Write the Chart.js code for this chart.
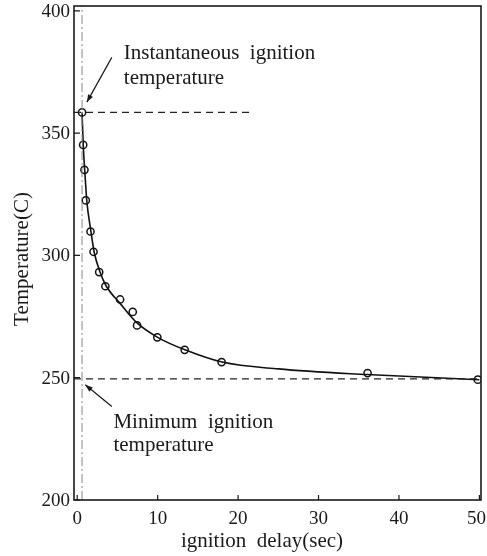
<!DOCTYPE html>
<html>
<head>
<meta charset="utf-8">
<script src="https://cdn.jsdelivr.net/npm/chart.js@4.4.0/dist/chart.umd.min.js"></script>
<style>
  html, body { margin: 0; padding: 0; background: #fff; }
  #wrap { width: 487px; height: 556px; }
</style>
</head>
<body>
<div id="wrap"><canvas id="chartIgnition"></canvas></div>
<script>
// ===== DATA =====
const delaySec = [0.6, 0.74, 0.9, 1.07, 1.65, 2.03, 2.73, 3.5, 5.33, 6.9, 7.44, 9.96, 13.36, 17.95, 36.1, 49.8];
const tempC = [358.5, 345.2, 335, 322.5, 309.8, 301.5, 293.2, 287.4, 282, 276.9, 271.4, 266.5, 261.4, 256.4, 251.9, 249.2];

// fitted curve
const curveX = [0.6, 0.75, 0.95, 1.2, 1.7, 2.1, 2.8, 3.6, 5.3, 7.4, 10, 13.4, 18, 25, 36, 50];
const curveY = [358.5, 345, 334, 322, 310, 301.5, 293.5, 287.5, 280.5, 272.5, 266.5, 261.4, 256.4, 253.6, 251.3, 249.2];

const instantTemp = 358.5;
const instantLineEnd = 21.7;
const minTemp = 249.5;
const instantDelay = 0.6;

const xTicks = [0, 10, 20, 30, 40, 50];
const yTicks = [200, 250, 300, 350, 400];
const xRange = [-0.4, 50.2];
const yRange = [200, 402];

const serif = '"Liberation Serif", "DejaVu Serif", serif';

// ===== PLUGINS =====
const framePlugin = {
  id: 'frame',
  afterDatasetsDraw(chart) {
    const { ctx, chartArea: a, scales: { x, y } } = chart;
    ctx.save();
    ctx.strokeStyle = '#1a1a1a';
    ctx.lineWidth = 1.6;
    ctx.strokeRect(a.left, a.top, a.right - a.left, a.bottom - a.top);
    // inward tick marks
    ctx.lineWidth = 1.2;
    ctx.beginPath();
    xTicks.forEach(v => {
      const px = x.getPixelForValue(v);
      ctx.moveTo(px, a.bottom);
      ctx.lineTo(px, a.bottom - 5);
    });
    yTicks.forEach(v => {
      const py = y.getPixelForValue(v);
      ctx.moveTo(a.left, py);
      ctx.lineTo(a.left + 6, py);
    });
    ctx.stroke();

    ctx.fillStyle = '#1a1a1a';
    ctx.textBaseline = 'middle';

    // tick labels (last x label kept inside the canvas, as in the print)
    ctx.font = '19px ' + serif;
    ctx.textAlign = 'center';
    xTicks.forEach(v => {
      const s = String(v);
      const w = ctx.measureText(s).width;
      const px = Math.min(x.getPixelForValue(v), chart.width - 1 - w / 2);
      ctx.fillText(s, px, a.bottom + 19);
    });
    ctx.textAlign = 'right';
    yTicks.forEach(v => {
      ctx.fillText(String(v), a.left - 4, y.getPixelForValue(v) + 1);
    });

    // annotations
    ctx.font = '21px ' + serif;
    ctx.textAlign = 'left';
    const txt = (s, dx, dy) => ctx.fillText(s, x.getPixelForValue(dx), y.getPixelForValue(dy));
    txt('Instantaneous  ignition', 5.8, 382.4);
    txt('temperature', 5.8, 372.2);
    txt('Minimum  ignition', 4.5, 231.6);
    txt('temperature', 4.5, 222.2);

    const arrow = (x0, y0, x1, y1) => {
      const ax = x.getPixelForValue(x0), ay = y.getPixelForValue(y0);
      const bx = x.getPixelForValue(x1), by = y.getPixelForValue(y1);
      const ang = Math.atan2(by - ay, bx - ax);
      ctx.lineWidth = 1.2;
      ctx.beginPath();
      ctx.moveTo(ax, ay);
      ctx.lineTo(bx, by);
      ctx.stroke();
      ctx.beginPath();
      ctx.moveTo(bx, by);
      ctx.lineTo(bx - 8 * Math.cos(ang - 0.35), by - 8 * Math.sin(ang - 0.35));
      ctx.lineTo(bx - 8 * Math.cos(ang + 0.35), by - 8 * Math.sin(ang + 0.35));
      ctx.closePath();
      ctx.fill();
    };
    arrow(4.3, 381, 1.2, 362.7);
    arrow(4.3, 238.2, 1.0, 247.1);

    // axis titles (the printed ones sit a little off-centre)
    ctx.textAlign = 'center';
    ctx.fillText('ignition  delay(sec)', 262, 541);
    ctx.translate(22, 259);
    ctx.rotate(-Math.PI / 2);
    ctx.fillText('Temperature(C)', 0, 0);
    ctx.restore();
  }
};

// ===== CHART =====
new Chart(document.getElementById('chartIgnition'), {
  type: 'scatter',
  data: {
    datasets: [
      {
        label: 'instant delay',
        data: yRange.map(v => ({ x: instantDelay, y: v })),
        showLine: true, borderColor: '#888', borderWidth: 1, borderDash: [9, 3, 2, 3], pointRadius: 0
      },
      {
        label: 'instantaneous',
        data: [{ x: xRange[0], y: instantTemp }, { x: instantLineEnd, y: instantTemp }],
        showLine: true, borderColor: '#222', borderWidth: 1.3, borderDash: [7, 5], pointRadius: 0
      },
      {
        label: 'minimum',
        data: [{ x: xRange[0], y: minTemp }, { x: xRange[1], y: minTemp }],
        showLine: true, borderColor: '#222', borderWidth: 1.3, borderDash: [7, 5], pointRadius: 0
      },
      {
        label: 'curve',
        data: curveX.map((v, i) => ({ x: v, y: curveY[i] })),
        showLine: true, borderColor: '#111', borderWidth: 1.6, pointRadius: 0,
        cubicInterpolationMode: 'monotone'
      },
      {
        label: 'measured',
        data: delaySec.map((v, i) => ({ x: v, y: tempC[i] })),
        showLine: false, pointRadius: 3.6, pointBorderWidth: 1.5,
        pointBorderColor: '#111', pointBackgroundColor: '#fff'
      }
    ]
  },
  options: {
    responsive: true, maintainAspectRatio: false, animation: false,
    layout: { padding: { top: 6, right: 6, left: 0, bottom: 0 } },
    plugins: { legend: { display: false }, tooltip: { enabled: false } },
    scales: {
      x: {
        type: 'linear', min: xRange[0], max: xRange[1],
        afterBuildTicks: s => { s.ticks = xTicks.map(v => ({ value: v })); },
        afterFit: s => { s.height = 56; s.paddingLeft = 0; s.paddingRight = 0; },
        grid: { display: false, drawTicks: false },
        border: { display: false },
        ticks: { display: false },
        title: { display: false }
      },
      y: {
        type: 'linear', min: yRange[0], max: yRange[1],
        afterBuildTicks: s => { s.ticks = yTicks.map(v => ({ value: v })); },
        afterFit: s => { s.width = 74; s.paddingTop = 0; s.paddingBottom = 0; },
        grid: { display: false, drawTicks: false },
        border: { display: false },
        ticks: { display: false },
        title: { display: false }
      }
    }
  },
  plugins: [framePlugin]
});
</script>
</body>
</html>
